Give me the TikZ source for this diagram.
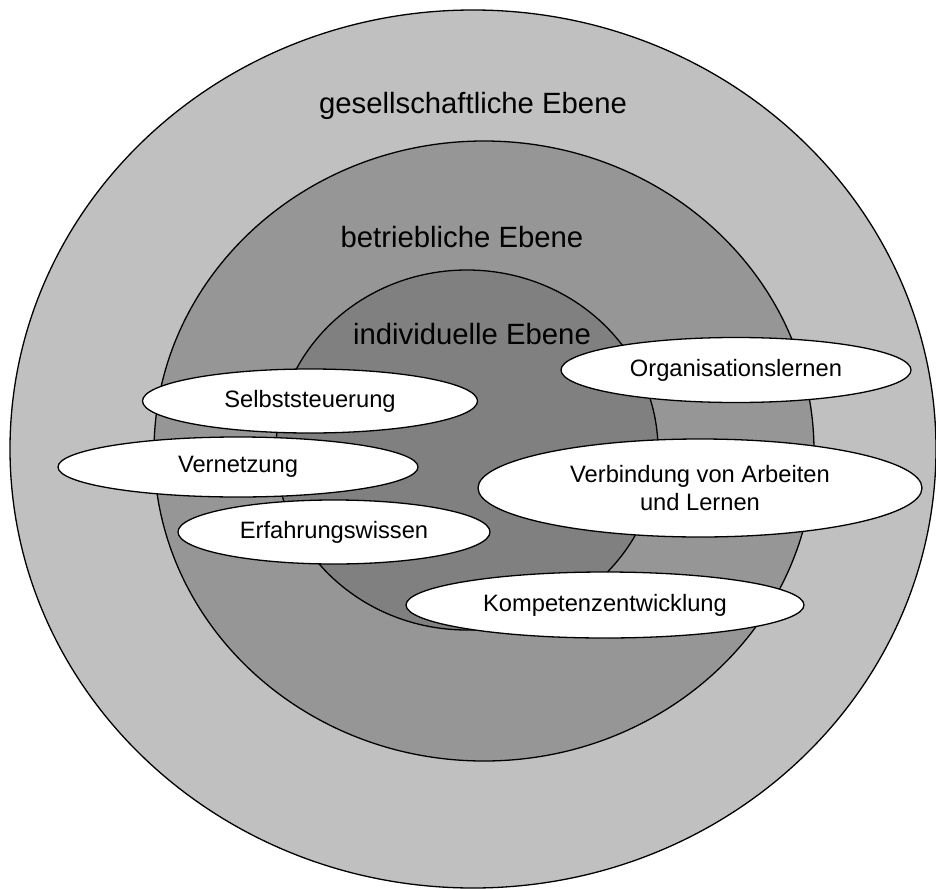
\documentclass[tikz,border=0pt]{standalone}
\usepackage{fontspec}
\setmainfont{Liberation Sans}
\usetikzlibrary{shapes.geometric}
\definecolor{grayA}{HTML}{C0C0C0}
\definecolor{grayB}{HTML}{969696}
\definecolor{grayC}{HTML}{808080}
\begin{document}
\begin{tikzpicture}[x=1pt,y=-1pt,
  ring/.style={draw=black, line width=1.3pt},
  bubble/.style={ellipse, draw=black, fill=white, line width=1.3pt, inner sep=0pt,
    font=\fontsize{23.7}{28}\selectfont, align=center},
  levellabel/.style={font=\fontsize{29.3}{34}\selectfont, inner sep=0pt}]
\useasboundingbox (0,0) rectangle (936,888);
\fill[white] (0,0) rectangle (936,888);
\begin{scope}
  \clip (0,0) rectangle (936,888);
  \draw[ring, fill=grayA] (473,449) ellipse [x radius=463, y radius=439];
\end{scope}
\draw[ring, fill=grayB] (484,451) ellipse [x radius=330, y radius=310];
\draw[ring, fill=grayC] (467,450) ellipse [x radius=191, y radius=180];

\node[levellabel] (gesell) at (473,106) {gesellschaftliche Ebene};
\node[levellabel] (betrieb) at (462,237) {betriebliche Ebene};
\node[levellabel] (indiv) at (472,334) {individuelle Ebene};

\node[bubble, minimum width=335pt, minimum height=64pt] (selbst) at (310,401) {Selbststeuerung};
\node[bubble, minimum width=360pt, minimum height=60pt] (vernetz) at (238,467) {Vernetzung};
\node[bubble, minimum width=312pt, minimum height=64pt] (erfahr) at (334,532) {Erfahrungswissen};
\node[bubble, minimum width=350pt, minimum height=65pt] (org) at (736,370) {Organisationslernen};
\node[bubble, minimum width=444pt, minimum height=98pt] (verb) at (700,488) {Verbindung von Arbeiten\\und Lernen};
\node[bubble, minimum width=398pt, minimum height=66pt] (kompetenz) at (605,605) {Kompetenzentwicklung};
\end{tikzpicture}
\end{document}
